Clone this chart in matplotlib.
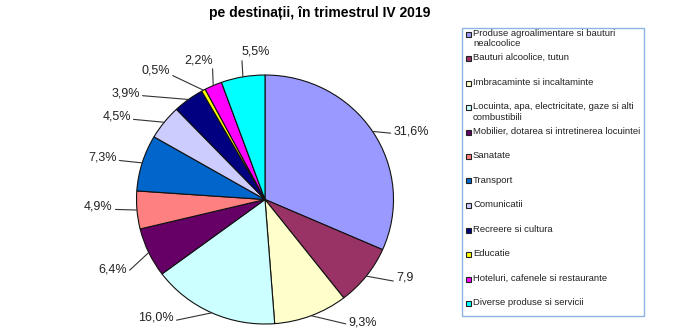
import matplotlib.pyplot as plt
from matplotlib.patches import Rectangle
import numpy as np

plt.rcParams['font.family'] = ['Liberation Sans', 'DejaVu Sans']

# date: structura cheltuielilor pe destinatii, trimestrul IV 2019
categorii = [
    "Produse agroalimentare si bauturi\nnealcoolice",
    "Bauturi alcoolice, tutun",
    "Imbracaminte si incaltaminte",
    "Locuinta, apa, electricitate, gaze si alti\ncombustibili",
    "Mobilier, dotarea si intretinerea locuintei",
    "Sanatate",
    "Transport",
    "Comunicatii",
    "Recreere si cultura",
    "Educatie",
    "Hoteluri, cafenele si restaurante",
    "Diverse produse si servicii",
]
valori = [31.6, 7.9, 9.3, 16.0, 6.4, 4.9, 7.3, 4.5, 3.9, 0.5, 2.2, 5.5]
etichete = ["31,6%", "7,9", "9,3%", "16,0%", "6,4%", "4,9%",
            "7,3%", "4,5%", "3,9%", "0,5%", "2,2%", "5,5%"]

culori = ['#9999FF', '#993366', '#FFFFCC', '#CCFFFF', '#660066', '#FF8080',
          '#0066CC', '#CCCCFF', '#000080', '#FFFF00', '#FF00FF', '#00FFFF']

W, H = 700, 336
fig = plt.figure(figsize=(7, 3.36), dpi=100)

# pie axes over whole figure, center at (265, 199.5) px
cx, cy, rx, ry = 265, 199.5, 128.5, 124.5
ax = fig.add_axes([0, 0, 1, 1])
wedges, _ = ax.pie(valori, colors=culori, startangle=90, counterclock=False,
                   wedgeprops=dict(edgecolor='#111111', linewidth=0.8))
ax.set_aspect('auto')
ax.set_xlim(-cx / rx, (W - cx) / rx)
ax.set_ylim(-(H - cy) / ry, cy / ry)
ax.axis('off')

# pozitii etichete (in unitati de raza) si ancorare
pozitii = [(1.00, 0.55), (1.02, -0.63), (0.65, -0.985), (-0.71, -0.945),
           (-1.075, -0.56), (-1.185, -0.06), (-1.155, 0.335), (-1.045, 0.665),
           (-0.975, 0.855), (-0.74, 1.035), (-0.52, 1.12), (-0.07, 1.185)]
aliniere = ['left', 'left', 'left', 'right', 'right', 'right', 'right',
            'right', 'right', 'right', 'center', 'center']
relpos = [(0, 0.3), (0, 0.2), (0, 0.3), (1, 0.2), (1, 0.2), (1, 0.3),
          (1, 0.3), (1, 0.3), (1, 0.3), (1, 0.2), (1, 0.0), (0, 0.0)]

for w, txt, pos, ha, rp in zip(wedges, etichete, pozitii, aliniere, relpos):
    ang = np.deg2rad((w.theta1 + w.theta2) / 2)
    ax.annotate(txt, xy=(np.cos(ang), np.sin(ang)), xytext=pos,
                ha=ha, va='center', fontsize=9, color='#222222',
                arrowprops=dict(arrowstyle='-', color='#333333', lw=0.8,
                                relpos=rp, shrinkA=0, shrinkB=0))

fig.text(320 / W, 1 - 13 / H, "pe destinații, în trimestrul IV 2019",
         ha='center', va='center', fontsize=10, fontweight='bold')

# legenda desenata manual
def fx(px):
    return px / W

def fy(py):
    return 1 - py / H

fig.patches.append(Rectangle((fx(462), fy(316)), fx(644) - fx(462), fy(28) - fy(316),
                             transform=fig.transFigure, facecolor='white',
                             edgecolor='#8db3e2', linewidth=1, zorder=0))
y0, pas = 34, 24.5
for i, (lab, c) in enumerate(zip(categorii, culori)):
    y = y0 + i * pas
    fig.patches.append(Rectangle((fx(466), fy(y + 2.5)), 5 / W, 5 / H,
                                 transform=fig.transFigure, facecolor=c,
                                 edgecolor='#222222', linewidth=0.8, zorder=2))
    fig.text(fx(473), fy(y - 5.3), lab, ha='left', va='top', fontsize=6.8,
             color='#222222', linespacing=1.25)

fig.savefig('out.png', dpi=100)
